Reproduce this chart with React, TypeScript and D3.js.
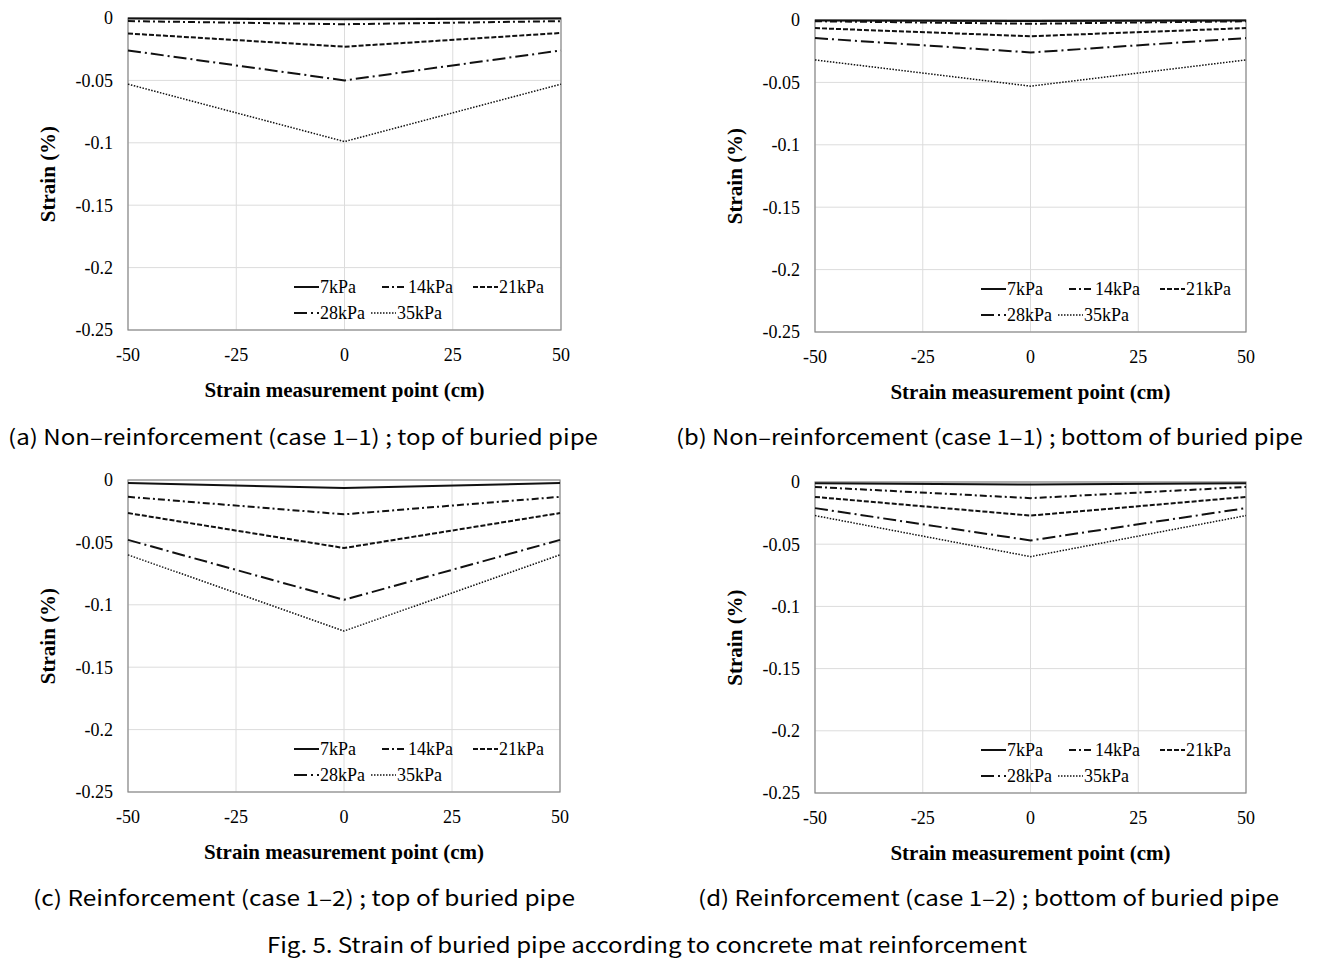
import React from "react";
import * as d3 from "d3";

const W = 1322;
const H = 963;

const points = [-50, 0, 50];
const xTicks = [-50, -25, 0, 25, 50];
const yTicks = [0, -0.05, -0.1, -0.15, -0.2, -0.25];
const seriesNames = ["7kPa", "14kPa", "21kPa", "28kPa", "35kPa"];

// strain (%) at -50, 0, 50 cm for 7, 14, 21, 28, 35 kPa
const topNonReinf = [
  [-0.0005, -0.001, -0.0005],
  [-0.0025, -0.005, -0.0025],
  [-0.0124, -0.023, -0.012],
  [-0.026, -0.05, -0.026],
  [-0.053, -0.099, -0.053],
];
const bottomNonReinf = [
  [-0.0005, -0.0008, -0.0005],
  [-0.001, -0.003, -0.001],
  [-0.0065, -0.013, -0.0065],
  [-0.0145, -0.026, -0.0145],
  [-0.032, -0.053, -0.032],
];
const topReinf = [
  [-0.0025, -0.0065, -0.0025],
  [-0.0135, -0.0275, -0.0135],
  [-0.0265, -0.0545, -0.0265],
  [-0.048, -0.096, -0.048],
  [-0.06, -0.121, -0.06],
];
const bottomReinf = [
  [-0.001, -0.002, -0.001],
  [-0.004, -0.013, -0.004],
  [-0.012, -0.027, -0.012],
  [-0.021, -0.047, -0.021],
  [-0.027, -0.06, -0.027],
];

const styles = [
  { dash: null, width: 2 },
  { dash: "7 3 2 3", width: 2 },
  { dash: "5 2", width: 2 },
  { dash: "13 4 2 4", width: 2 },
  { dash: "1.5 1.5", width: 1.5 },
];

const serif = "'Liberation Serif', 'Times New Roman', serif";
const sans = "'Noto Sans CJK KR', 'Noto Sans', sans-serif";

type Box = { x0: number; x1: number; y0: number; y1: number };

const Panel = ({ box, data }: { box: Box; data: number[][] }) => {
  const x = d3.scaleLinear([-50, 50], [box.x0, box.x1]);
  const y = d3.scaleLinear([0, -0.25], [box.y0, box.y1]);
  const line = d3
    .line<number>()
    .x((_, i) => x(points[i]))
    .y((d) => y(d));
  const midY = (box.y0 + box.y1) / 2;
  const midX = (box.x0 + box.x1) / 2;
  const legX = box.x0 + 166;
  const legend = [
    { i: 0, dx: 0, row: 0 },
    { i: 1, dx: 88, row: 0 },
    { i: 2, dx: 179, row: 0 },
    { i: 3, dx: 0, row: 1 },
    { i: 4, dx: 77, row: 1 },
  ];
  return (
    <g>
      {xTicks.map((t) => (
        <line key={"gx" + t} x1={x(t)} x2={x(t)} y1={box.y0} y2={box.y1} stroke="#dcdcdc" />
      ))}
      {yTicks.map((t) => (
        <line key={"gy" + t} x1={box.x0} x2={box.x1} y1={y(t)} y2={y(t)} stroke="#dcdcdc" />
      ))}
      <rect
        x={box.x0}
        y={box.y0}
        width={box.x1 - box.x0}
        height={box.y1 - box.y0}
        fill="none"
        stroke="#8a8a8a"
        strokeWidth={1.2}
      />
      {data.map((s, i) => (
        <path
          key={i}
          d={line(s) || ""}
          fill="none"
          stroke="#111"
          strokeWidth={styles[i].width}
          strokeDasharray={styles[i].dash || undefined}
        />
      ))}
      {yTicks.map((t) => (
        <text
          key={"ty" + t}
          x={box.x0 - 15}
          y={y(t)}
          dy="0.35em"
          textAnchor="end"
          fontFamily={serif}
          fontSize={18}
        >
          {String(t)}
        </text>
      ))}
      {xTicks.map((t) => (
        <text
          key={"tx" + t}
          x={x(t)}
          y={box.y1 + 25}
          dy="0.35em"
          textAnchor="middle"
          fontFamily={serif}
          fontSize={18}
        >
          {t}
        </text>
      ))}
      <text
        x={midX}
        y={box.y1 + 60}
        dy="0.35em"
        textAnchor="middle"
        fontFamily={serif}
        fontSize={21}
        fontWeight="bold"
      >
        Strain measurement point (cm)
      </text>
      <text
        transform={`translate(${box.x0 - 80},${midY}) rotate(-90)`}
        dy="0.35em"
        textAnchor="middle"
        fontFamily={serif}
        fontSize={21}
        fontWeight="bold"
      >
        Strain (%)
      </text>
      {legend.map((l) => {
        const ly = box.y1 - 43 + l.row * 26;
        const lx = legX + l.dx;
        return (
          <g key={"lg" + l.i}>
            <line
              x1={lx}
              x2={lx + 25}
              y1={ly}
              y2={ly}
              stroke="#111"
              strokeWidth={styles[l.i].width}
              strokeDasharray={styles[l.i].dash || undefined}
            />
            <text x={lx + 26} y={ly} dy="0.35em" fontFamily={serif} fontSize={18}>
              {seriesNames[l.i]}
            </text>
          </g>
        );
      })}
    </g>
  );
};

const captions = [
  { t: "(a) Non\u2013reinforcement (case 1\u20131) ; top of buried pipe", x: 8, w: 590, y: 445 },
  { t: "(b) Non\u2013reinforcement (case 1\u20131) ; bottom of buried pipe", x: 676, w: 627, y: 445 },
  { t: "(c) Reinforcement (case 1\u20132) ; top of buried pipe", x: 33, w: 542, y: 906 },
  { t: "(d) Reinforcement (case 1\u20132) ; bottom of buried pipe", x: 698, w: 581, y: 906 },
  { t: "Fig. 5. Strain of buried pipe according to concrete mat reinforcement", x: 267, w: 760, y: 953 },
];

export default function App() {
  return (
    <svg
      width={W}
      height={H}
      viewBox={`0 0 ${W} ${H}`}
      style={{ position: "absolute", left: 0, top: 0, background: "#fff" }}
    >
      <rect width={W} height={H} fill="#fff" />
      <Panel box={{ x0: 128, x1: 561, y0: 18, y1: 330 }} data={topNonReinf} />
      <Panel box={{ x0: 815, x1: 1246, y0: 20, y1: 332 }} data={bottomNonReinf} />
      <Panel box={{ x0: 128, x1: 560, y0: 480, y1: 792 }} data={topReinf} />
      <Panel box={{ x0: 815, x1: 1246, y0: 482, y1: 793 }} data={bottomReinf} />
      {captions.map((c) => (
        <text
          key={c.t}
          x={c.x}
          y={c.y}
          fontFamily={sans}
          fontSize={21}
          textLength={c.w}
          lengthAdjust="spacingAndGlyphs"
        >
          {c.t}
        </text>
      ))}
    </svg>
  );
}
